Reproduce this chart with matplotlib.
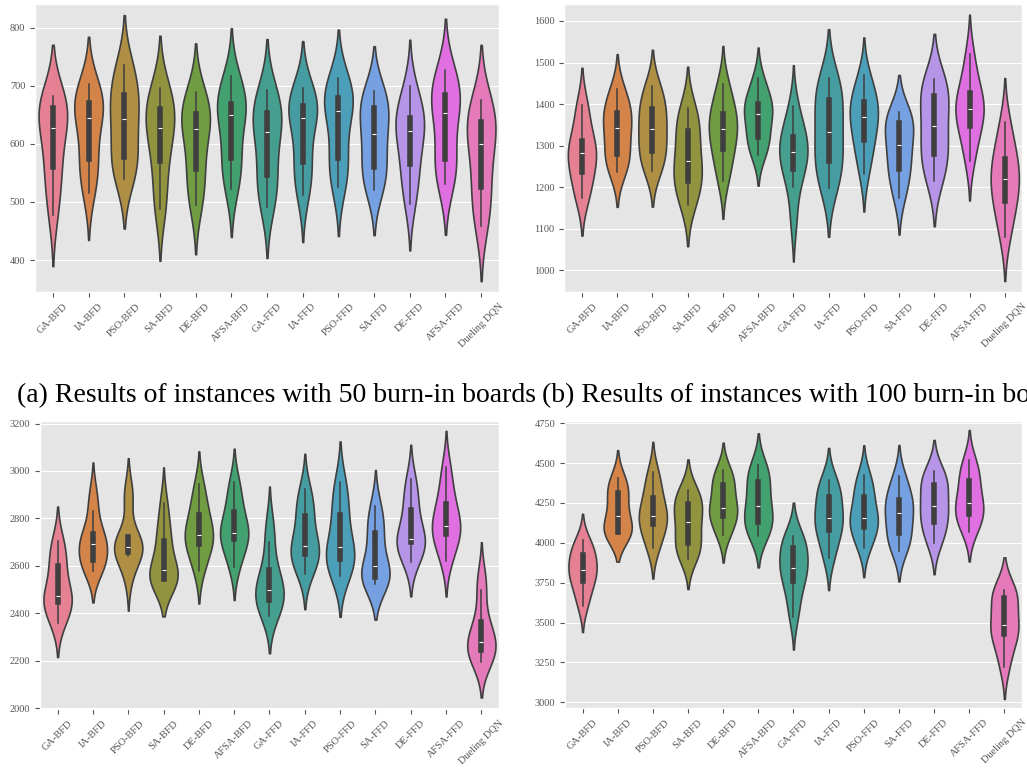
import numpy as np
import pandas as pd
import matplotlib
matplotlib.use('Agg')
import matplotlib.pyplot as plt
import seaborn as sns

methods = ['GA-BFD', 'IA-BFD', 'PSO-BFD', 'SA-BFD', 'DE-BFD', 'AFSA-BFD',
           'GA-FFD', 'IA-FFD', 'PSO-FFD', 'SA-FFD', 'DE-FFD', 'AFSA-FFD',
           'Dueling DQN']

# 10 runs per method, values estimated from the figure
# (a) 50 burn-in boards
panel_a = [
    [478, 520, 555, 575, 620, 636, 650, 665, 675, 682],
    [516, 545, 569, 589, 640, 650, 661, 673, 690, 703],
    [540, 560, 572, 592, 635, 649, 670, 690, 715, 736],
    [488, 510, 565, 589, 620, 636, 650, 663, 680, 697],
    [494, 520, 550, 574, 618, 632, 643, 655, 672, 689],
    [522, 550, 570, 594, 640, 658, 662, 670, 695, 717],
    [491, 520, 540, 564, 614, 628, 640, 657, 675, 693],
    [512, 540, 562, 586, 638, 650, 658, 667, 682, 696],
    [525, 550, 570, 594, 648, 664, 670, 682, 698, 713],
    [520, 540, 555, 575, 610, 624, 650, 666, 680, 691],
    [497, 530, 560, 580, 616, 630, 638, 646, 670, 699],
    [531, 552, 568, 592, 645, 661, 676, 688, 708, 728],
    [458, 490, 518, 546, 592, 608, 628, 640, 660, 676],
]

# (b) 100 burn-in boards
panel_b = [
    [1174, 1195, 1232, 1252, 1275, 1289, 1305, 1314, 1375, 1397],
    [1237, 1260, 1274, 1294, 1335, 1349, 1370, 1382, 1410, 1436],
    [1240, 1262, 1280, 1304, 1330, 1348, 1378, 1391, 1420, 1444],
    [1157, 1190, 1210, 1234, 1255, 1269, 1320, 1340, 1365, 1391],
    [1215, 1255, 1285, 1309, 1334, 1348, 1368, 1380, 1415, 1449],
    [1278, 1300, 1317, 1337, 1370, 1384, 1392, 1404, 1430, 1462],
    [1120, 1201, 1238, 1258, 1278, 1290, 1310, 1323, 1350, 1395],
    [1197, 1230, 1258, 1282, 1320, 1346, 1390, 1415, 1440, 1464],
    [1233, 1280, 1308, 1332, 1362, 1376, 1395, 1407, 1435, 1469],
    [1175, 1215, 1240, 1260, 1295, 1309, 1345, 1358, 1370, 1381],
    [1215, 1250, 1274, 1294, 1338, 1356, 1405, 1425, 1445, 1460],
    [1263, 1310, 1342, 1366, 1382, 1394, 1416, 1429, 1470, 1520],
    [1080, 1130, 1162, 1186, 1212, 1226, 1258, 1270, 1310, 1357],
]

# bottom left
panel_c = [
    [2360, 2400, 2440, 2468, 2470, 2474, 2560, 2610, 2660, 2706],
    [2577, 2600, 2618, 2642, 2688, 2700, 2720, 2740, 2833, 2905],
    [2550, 2640, 2655, 2664, 2676, 2686, 2712, 2723, 2880, 2915],
    [2535, 2540, 2543, 2555, 2575, 2587, 2690, 2711, 2780, 2867],
    [2580, 2640, 2688, 2712, 2725, 2739, 2790, 2825, 2880, 2944],
    [2595, 2650, 2710, 2726, 2732, 2746, 2800, 2837, 2900, 2955],
    [2388, 2420, 2452, 2476, 2492, 2506, 2560, 2591, 2700, 2778],
    [2566, 2610, 2644, 2668, 2678, 2692, 2780, 2821, 2870, 2924],
    [2556, 2590, 2622, 2650, 2665, 2691, 2780, 2828, 2900, 2954],
    [2524, 2535, 2548, 2564, 2592, 2610, 2710, 2746, 2800, 2853],
    [2616, 2650, 2696, 2712, 2713, 2715, 2800, 2848, 2910, 2966],
    [2622, 2680, 2728, 2752, 2764, 2776, 2840, 2868, 2940, 3018],
    [2195, 2220, 2240, 2256, 2272, 2286, 2340, 2372, 2497, 2550],
]

# bottom right
panel_d = [
    [3604, 3680, 3750, 3786, 3820, 3840, 3900, 3929, 3970, 4018],
    [4054, 4058, 4062, 4078, 4160, 4182, 4280, 4319, 4360, 4409],
    [3966, 4020, 4110, 4134, 4150, 4180, 4250, 4290, 4380, 4443],
    [3901, 3950, 3990, 4018, 4120, 4146, 4220, 4249, 4290, 4332],
    [4047, 4100, 4160, 4204, 4212, 4230, 4330, 4371, 4410, 4457],
    [4043, 4080, 4120, 4156, 4220, 4242, 4340, 4393, 4440, 4489],
    [3537, 3640, 3750, 3802, 3830, 3852, 3940, 3977, 4010, 4045],
    [3903, 3990, 4070, 4114, 4148, 4164, 4260, 4300, 4350, 4395],
    [3970, 4030, 4090, 4138, 4146, 4162, 4260, 4300, 4370, 4426],
    [3951, 4000, 4050, 4090, 4180, 4200, 4250, 4276, 4350, 4420],
    [3997, 4060, 4120, 4164, 4222, 4240, 4340, 4371, 4410, 4451],
    [4070, 4120, 4170, 4214, 4238, 4258, 4360, 4395, 4460, 4520],
    [3224, 3330, 3420, 3456, 3475, 3495, 3630, 3662, 3690, 3705],
]

captions = ['(a) Results of instances with 50 burn-in boards',
            '(b) Results of instances with 100 burn-in boards']

plt.style.use('ggplot')
plt.rcParams['font.family'] = ['Liberation Serif', 'DejaVu Serif']

fig = plt.figure(figsize=(10.27, 7.73), dpi=100)

panels = [
    (panel_a, [0.0341, 0.6223, 0.4518, 0.3726], (345, 841)),
    (panel_b, [0.5495, 0.6223, 0.4460, 0.3726], (948, 1641)),
    (panel_c, [0.0389, 0.0828, 0.4470, 0.3730], (1997, 3212)),
    (panel_d, [0.5501, 0.0841, 0.4450, 0.3717], (2964, 4766)),
]

palette = sns.color_palette('husl', len(methods))

for values, rect, ylim in panels:
    ax = fig.add_axes(rect)
    df = pd.DataFrame({
        'method': np.repeat(methods, [len(v) for v in values]),
        'value': np.concatenate(values),
    })
    sns.violinplot(data=df, x='method', y='value', hue='method',
                   palette=palette, legend=False, linewidth=1.2,
                   inner_kws=dict(box_width=4, whis_width=1.1), ax=ax)
    ax.set_ylim(*ylim)
    ax.set_xlabel('')
    ax.set_ylabel('')
    ax.tick_params(axis='x', labelrotation=45, labelsize=7.5)
    ax.tick_params(axis='y', labelsize=7.5)

# captions run off the right edge, as in the source image
fig.text(17 / 1027, 1 - 402 / 773, captions[0], fontsize=20,
         color='black', va='baseline')
fig.text(542 / 1027, 1 - 402 / 773, captions[1], fontsize=20,
         color='black', va='baseline')

fig.savefig('out.png', dpi=100)
